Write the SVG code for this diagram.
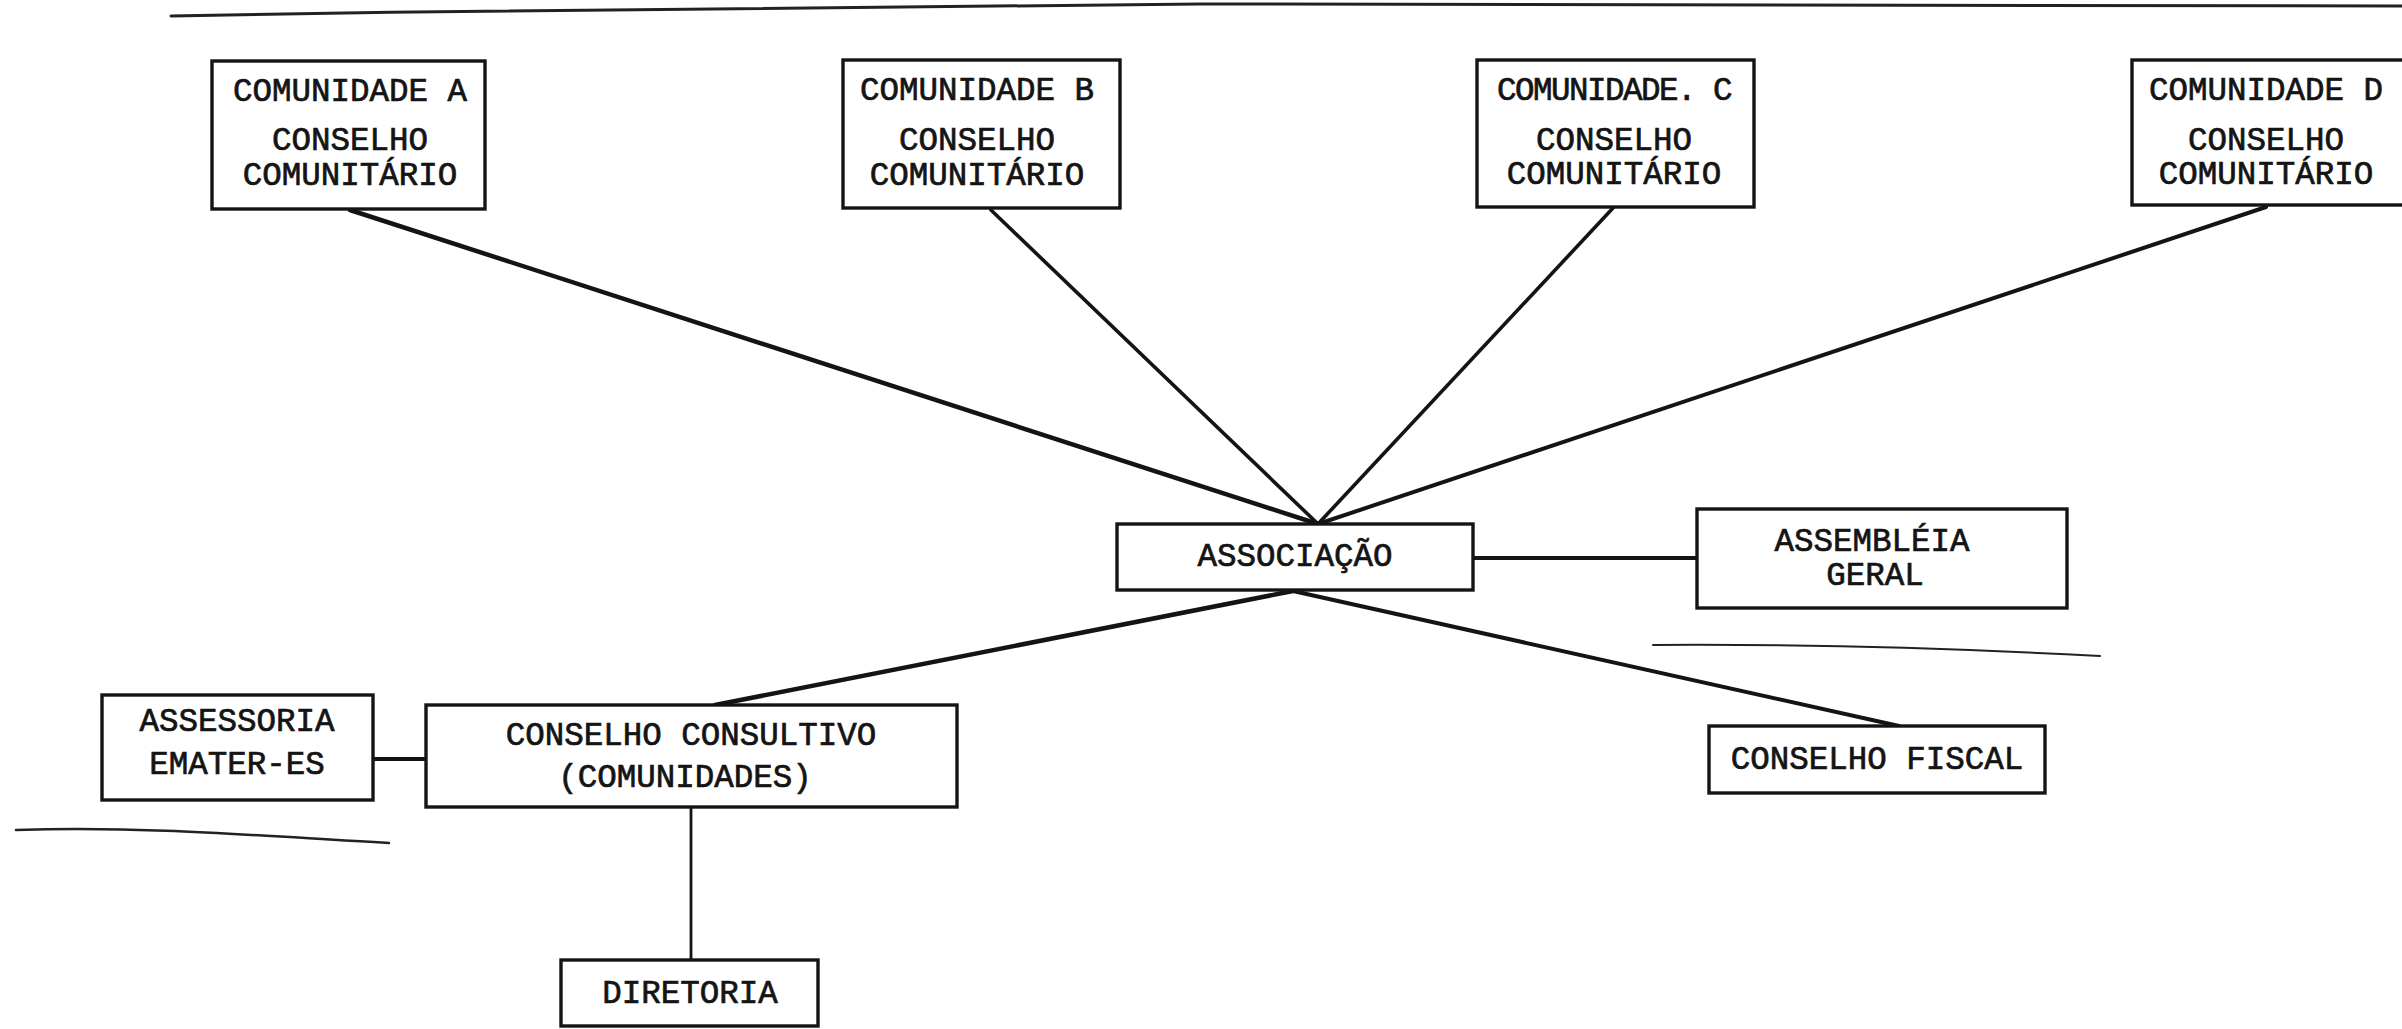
<svg xmlns="http://www.w3.org/2000/svg" width="2402" height="1029" viewBox="0 0 2402 1029">
<style>
.box{fill:#fff;stroke:#141414;stroke-width:3.4}
.t{font-family:"Liberation Mono","Courier New",monospace;font-size:32.5px;fill:#141414;stroke:#141414;stroke-width:0.7;text-anchor:middle}
.c{stroke:#141414;fill:none;stroke-linecap:round}
.stray{stroke:#222;fill:none;stroke-linecap:round}
</style>
<rect width="2402" height="1029" fill="#fff"/>
<g id="scan-lines">
<path class="stray" d="M171,16 C500,10 800,6 1200,4 C1700,2 2100,3 2402,6" stroke-width="3"/>
<path class="stray" d="M1653,645 C1800,644 1950,648 2100,656" stroke-width="2"/>
<path class="stray" d="M16,830 C150,826 260,836 389,843" stroke-width="2.5"/>
<path class="stray" d="M443,798 L928,797" stroke-width="1.5" stroke-dasharray="14 6 3 6" opacity="0.6"/>
</g>
<g id="connectors">
<line class="c" x1="350" y1="210" x2="1318" y2="524" stroke-width="4.5"/>
<line class="c" x1="991" y1="210" x2="1318" y2="524" stroke-width="3.6"/>
<line class="c" x1="1613" y1="208" x2="1318" y2="524" stroke-width="3.6"/>
<line class="c" x1="2266" y1="207" x2="1318" y2="524" stroke-width="4"/>
<line class="c" x1="1473" y1="558" x2="1697" y2="558" stroke-width="3.8"/>
<line class="c" x1="1293" y1="591" x2="715" y2="705" stroke-width="4.5"/>
<line class="c" x1="1293" y1="591" x2="1899" y2="726" stroke-width="4"/>
<line class="c" x1="373" y1="759" x2="426" y2="759" stroke-width="4"/>
<line class="c" x1="691" y1="807" x2="691" y2="960" stroke-width="2.8"/>
</g>
<g id="comunidade-a">
<rect class="box" x="212" y="61" width="273" height="148"/>
<text class="t" x="350" y="101">COMUNIDADE A</text>
<text class="t" x="350" y="150">CONSELHO</text>
<text class="t" x="350" y="185">COMUNITÁRIO</text>
</g>
<g id="comunidade-b">
<rect class="box" x="843" y="60" width="277" height="148"/>
<text class="t" x="977" y="100">COMUNIDADE B</text>
<text class="t" x="977" y="150">CONSELHO</text>
<text class="t" x="977" y="185">COMUNITÁRIO</text>
</g>
<g id="comunidade-c">
<rect class="box" x="1477" y="60" width="277" height="147"/>
<text class="t" x="1614" y="100" style="letter-spacing:-1.5px">COMUNIDADE. C</text>
<text class="t" x="1614" y="150">CONSELHO</text>
<text class="t" x="1614" y="184">COMUNITÁRIO</text>
</g>
<g id="comunidade-d">
<rect class="box" x="2132" y="60" width="290" height="145"/>
<text class="t" x="2266" y="100">COMUNIDADE D</text>
<text class="t" x="2266" y="150">CONSELHO</text>
<text class="t" x="2266" y="184">COMUNITÁRIO</text>
</g>
<g id="associacao">
<rect class="box" x="1117" y="524" width="356" height="66"/>
<text class="t" x="1295" y="566">ASSOCIAÇÃO</text>
</g>
<g id="assembleia-geral">
<rect class="box" x="1697" y="509" width="370" height="99"/>
<text class="t" x="1872" y="551">ASSEMBLÉIA</text>
<text class="t" x="1875" y="585">GERAL</text>
</g>
<g id="conselho-fiscal">
<rect class="box" x="1709" y="726" width="336" height="67"/>
<text class="t" x="1877" y="769">CONSELHO FISCAL</text>
</g>
<g id="assessoria">
<rect class="box" x="102" y="695" width="271" height="105"/>
<text class="t" x="237" y="731">ASSESSORIA</text>
<text class="t" x="237" y="774">EMATER-ES</text>
</g>
<g id="conselho-consultivo">
<rect class="box" x="426" y="705" width="531" height="102"/>
<text class="t" x="691" y="745">CONSELHO CONSULTIVO</text>
<text class="t" x="685" y="787">(COMUNIDADES)</text>
</g>
<g id="diretoria">
<rect class="box" x="561" y="960" width="257" height="66"/>
<text class="t" x="690" y="1003">DIRETORIA</text>
</g>
</svg>
